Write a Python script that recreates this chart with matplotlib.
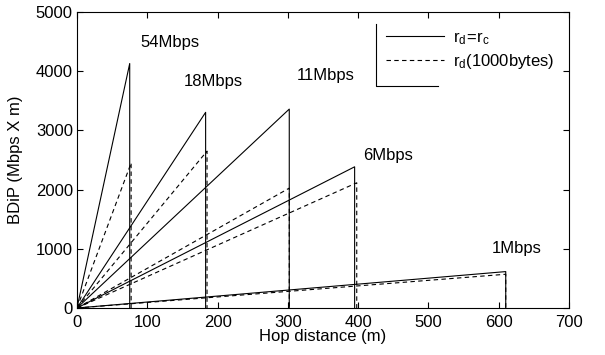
import matplotlib
matplotlib.use('Agg')
from matplotlib import pyplot as plt
from matplotlib.lines import Line2D

plt.rcParams['font.family'] = ['Liberation Sans', 'DejaVu Sans']
plt.rcParams['mathtext.fontset'] = 'custom'
plt.rcParams['mathtext.rm'] = 'Liberation Sans'

rates = ['54Mbps', '18Mbps', '11Mbps', '6Mbps', '1Mbps']
range_solid = [75, 183, 302, 395, 610]
peak_solid = [4130, 3305, 3360, 2385, 615]
range_dashed = [77, 185, 302, 398, 610]
peak_dashed = [2450, 2650, 2025, 2115, 570]
label_pos = [(90, 4490), (152, 3820), (312, 3920), (407, 2580), (590, 1010)]

fig = plt.figure(figsize=(6.05, 3.55), dpi=100)
ax = fig.add_axes([77/605, 1-308/355, 492/605, 296/355])

for r, p in zip(range_solid, peak_solid):
    ax.plot([0, r, r], [0, p, 0], color='black', lw=0.8)
for r, p in zip(range_dashed, peak_dashed):
    ax.plot([0, r, r], [0, p, 0], color='black', lw=0.8, dashes=(4, 3))

for name, (x, y) in zip(rates, label_pos):
    ax.text(x, y, name, fontsize=12, ha='left', va='center')

ax.set_xlim(0, 700)
ax.set_ylim(0, 5000)
ax.set_xticks(range(0, 701, 100))
ax.set_yticks(range(0, 5001, 1000))
ax.tick_params(direction='in', top=True, right=True, length=4, labelsize=12, pad=3)
ax.tick_params(axis='x', pad=5)
for s in ax.spines.values():
    s.set_linewidth(0.8)

ax.set_xlabel('Hop distance (m)', fontsize=12, labelpad=-1)
ax.set_ylabel('BDiP (Mbps X m)', fontsize=12, labelpad=9)

# legend, only left and bottom border drawn
h1 = Line2D([], [], color='black', lw=0.8)
h2 = Line2D([], [], color='black', lw=0.8, dashes=(4, 3))
leg = ax.legend([h1, h2], [r'$\mathregular{r_d\!=\!r_c}$', r'$\mathregular{r_d(1000bytes)}$'],
                loc='upper left', bbox_to_anchor=((376-77)/492, 1-(20-12)/296),
                frameon=False, fontsize=12, handlelength=3.5, handletextpad=0.5,
                borderaxespad=0, labelspacing=0.3, borderpad=0.6)
x0, x1 = (376-77)/492, (438-77)/492
y0, y1 = (308-86)/296, (308-24)/296
ax.plot([x0, x0, x1], [y1, y0, y0], transform=ax.transAxes, color='black', lw=0.8)

fig.savefig('out.png', dpi=100)
